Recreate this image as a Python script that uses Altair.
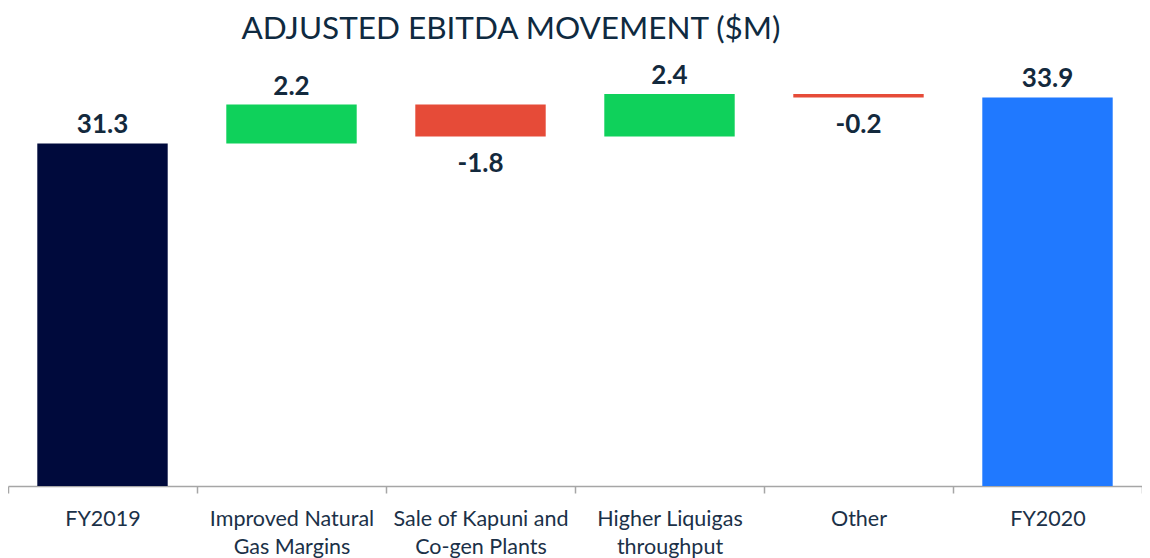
import altair as alt
import pandas as pd

categories = ["FY2019", "Improved Natural\nGas Margins", "Sale of Kapuni and\nCo-gen Plants",
              "Higher Liquigas\nthroughput", "Other", "FY2020"]
values = [31.3, 2.2, -1.8, 2.4, -0.2, 33.9]
kinds = ["start", "delta", "delta", "delta", "delta", "end"]
labels = ["31.3", "2.2", "-1.8", "2.4", "-0.2", "33.9"]

rows = []
running = 0.0
for cat, v, k, lab in zip(categories, values, kinds, labels):
    if k == "delta":
        start, end = running, running + v
        running = end
        kind = "increase" if v >= 0 else "decrease"
    else:
        start, end = 0.0, v
        running = v
        kind = k
    rows.append({"category": cat, "start": start, "end": end, "kind": kind,
                 "label": lab, "sign": "neg" if v < 0 else "pos"})
df = pd.DataFrame(rows)

x = alt.X("category:N", sort=categories, title=None,
          scale=alt.Scale(paddingInner=0, paddingOuter=0),
          axis=alt.Axis(labelAngle=0, labelFont="Lato", labelFontSize=21.5,
                        labelColor="#1b3148", labelLineHeight=28, labelPadding=15,
                        labelLimit=400, tickSize=7, tickColor="#a6a6a6", tickWidth=1.5,
                        domainColor="#a6a6a6", domainWidth=1.5, tickBand="extent",
                        grid=False, labelExpr="split(datum.label, '\\n')"))
yscale = alt.Scale(domain=[11.94, 36.13], nice=False, zero=False)

base = alt.Chart(df)
bars = base.mark_bar(clip=True, width=alt.RelativeBandSize(0.69)).encode(
    x=x,
    y=alt.Y("start:Q", scale=yscale, axis=None),
    y2="end:Q",
    color=alt.Color("kind:N", legend=None,
                    scale=alt.Scale(domain=["start", "increase", "decrease", "end"],
                                    range=["#000a3c", "#0fd15b", "#e64b38", "#2079ff"])),
)
pos_text = base.transform_filter("datum.sign == 'pos'").mark_text(
    font="Lato", fontSize=26, fontWeight="bold", color="#13293d",
    baseline="alphabetic", dy=-10).encode(
    x=alt.X("category:N", sort=categories),
    y=alt.Y("end:Q", scale=yscale, axis=None),
    text="label:N")
neg_text = base.transform_filter("datum.sign == 'neg'").mark_text(
    font="Lato", fontSize=26, fontWeight="bold", color="#13293d",
    baseline="alphabetic", dy=36).encode(
    x=alt.X("category:N", sort=categories),
    y=alt.Y("end:Q", scale=yscale, axis=None),
    text="label:N")

chart = alt.layer(bars, pos_text, neg_text).properties(
    width=1134, height=428,
    padding={"left": 0, "right": 0, "top": 50, "bottom": 72},
    autosize=alt.AutoSizeParams(type="none"),
    title=alt.TitleParams("ADJUSTED EBITDA MOVEMENT ($M)", font="Lato", fontSize=31.5,
                          fontWeight="normal", color="#0f2a40", anchor="middle",
                          dx=-64, dy=-9),
).configure_view(stroke=None)

chart.save("out.html", embed_options={"renderer": "svg", "actions": False})
